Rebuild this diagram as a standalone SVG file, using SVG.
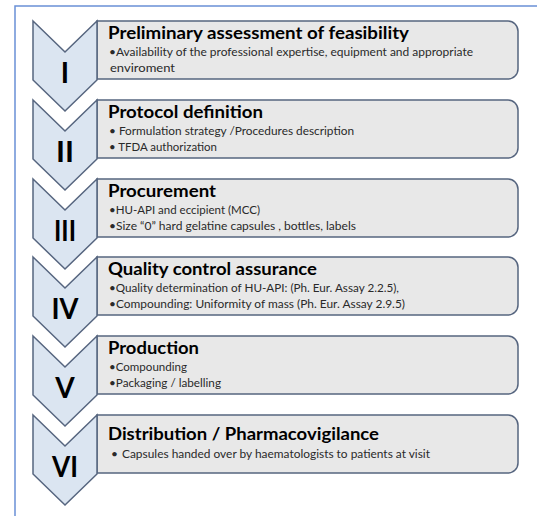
<svg xmlns="http://www.w3.org/2000/svg" width="537" height="516" viewBox="0 0 537 516">
<style>
.frame{fill:none;stroke:#6a90d6;stroke-width:1.5}
.chev{fill:#dbe5f1;stroke:#56657f;stroke-width:1.5;stroke-linejoin:miter}
.box{fill:#e8e8e8;stroke:#56657f;stroke-width:1.5}
.num{font-family:Lato,"Liberation Sans",sans-serif;font-weight:bold;font-size:28px;fill:#000;text-anchor:middle}
.ttl{font-family:Lato,"Liberation Sans",sans-serif;font-weight:bold;font-size:16.5px;fill:#000}
.txt{font-family:Lato,"Liberation Sans",sans-serif;font-size:12px;fill:#2a2a2a}
</style>
<rect x="15" y="6" width="560" height="560" class="frame"/>
<g id="connectors"></g>
<g id="step1">
<path class="box" d="M97,21 H508 A10,10 0 0 1 518,31 V69 A10,10 0 0 1 508,79 H97 Z"/>
<path class="chev" d="M33,21 L65,52 L97,21 V80 L65,111 L33,80 Z"/>
<text class="num" x="65" y="83">I</text>
<text class="ttl" x="108" y="39" textLength="301" lengthAdjust="spacingAndGlyphs">Preliminary assessment of feasibility</text>
<text class="txt" x="109" y="56" textLength="364" lengthAdjust="spacingAndGlyphs">•Availability of the professional expertise, equipment and appropriate</text>
<text class="txt" x="110" y="72" textLength="65" lengthAdjust="spacingAndGlyphs">enviroment</text>
</g>
<g id="step2">
<path class="box" d="M97,100 H508 A10,10 0 0 1 518,110 V148 A10,10 0 0 1 508,158 H97 Z"/>
<path class="chev" d="M33,100 L65,131 L97,100 V159 L65,190 L33,159 Z"/>
<text class="num" x="65" y="162" textLength="18" lengthAdjust="spacingAndGlyphs">II</text>
<text class="ttl" x="108" y="118" textLength="155" lengthAdjust="spacingAndGlyphs">Protocol definition</text>
<text class="txt" x="109" y="135" textLength="245" lengthAdjust="spacingAndGlyphs">• Formulation strategy /Procedures description</text>
<text class="txt" x="109" y="151" textLength="108" lengthAdjust="spacingAndGlyphs">• TFDA authorization</text>
</g>
<g id="step3">
<path class="box" d="M97,179 H508 A10,10 0 0 1 518,189 V227 A10,10 0 0 1 508,237 H97 Z"/>
<path class="chev" d="M33,179 L65,210 L97,179 V238 L65,269 L33,238 Z"/>
<text class="num" x="65" y="241" textLength="22" lengthAdjust="spacingAndGlyphs">III</text>
<text class="ttl" x="108" y="197" textLength="108" lengthAdjust="spacingAndGlyphs">Procurement</text>
<text class="txt" x="109" y="214" textLength="151" lengthAdjust="spacingAndGlyphs">•HU-API and eccipient (MCC)</text>
<text class="txt" x="109" y="230" textLength="247" lengthAdjust="spacingAndGlyphs">•Size “0” hard gelatine capsules , bottles, labels</text>
</g>
<g id="step4">
<path class="box" d="M97,257 H508 A10,10 0 0 1 518,267 V305 A10,10 0 0 1 508,315 H97 Z"/>
<path class="chev" d="M33,257 L65,288 L97,257 V316 L65,347 L33,316 Z"/>
<text class="num" x="65" y="319" textLength="27" lengthAdjust="spacingAndGlyphs">IV</text>
<text class="ttl" x="108" y="275" textLength="209" lengthAdjust="spacingAndGlyphs">Quality control assurance</text>
<text class="txt" x="109" y="292" textLength="290" lengthAdjust="spacingAndGlyphs">•Quality determination of HU-API: (Ph. Eur. Assay 2.2.5),</text>
<text class="txt" x="109" y="308" textLength="296" lengthAdjust="spacingAndGlyphs">•Compounding: Uniformity of mass (Ph. Eur. Assay 2.9.5)</text>
</g>
<g id="step5">
<path class="box" d="M97,336 H508 A10,10 0 0 1 518,346 V384 A10,10 0 0 1 508,394 H97 Z"/>
<path class="chev" d="M33,336 L65,367 L97,336 V395 L65,426 L33,395 Z"/>
<text class="num" x="65" y="398">V</text>
<text class="ttl" x="108" y="354" textLength="91" lengthAdjust="spacingAndGlyphs">Production</text>
<text class="txt" x="109" y="371" textLength="78" lengthAdjust="spacingAndGlyphs">•Compounding</text>
<text class="txt" x="109" y="387" textLength="112" lengthAdjust="spacingAndGlyphs">•Packaging / labelling</text>
</g>
<g id="step6">
<path class="box" d="M97,415 H508 A10,10 0 0 1 518,425 V463 A10,10 0 0 1 508,473 H97 Z"/>
<path class="chev" d="M33,415 L65,446 L97,415 V474 L65,505 L33,474 Z"/>
<text class="num" x="65" y="477" textLength="26" lengthAdjust="spacingAndGlyphs">VI</text>
<text class="ttl" x="108" y="440" textLength="271" lengthAdjust="spacingAndGlyphs">Distribution / Pharmacovigilance</text>
<text class="txt" x="111" y="458">•</text>
<text class="txt" x="122" y="458" textLength="308" lengthAdjust="spacingAndGlyphs">Capsules handed over by haematologists to patients at visit</text>
</g>
</svg>
